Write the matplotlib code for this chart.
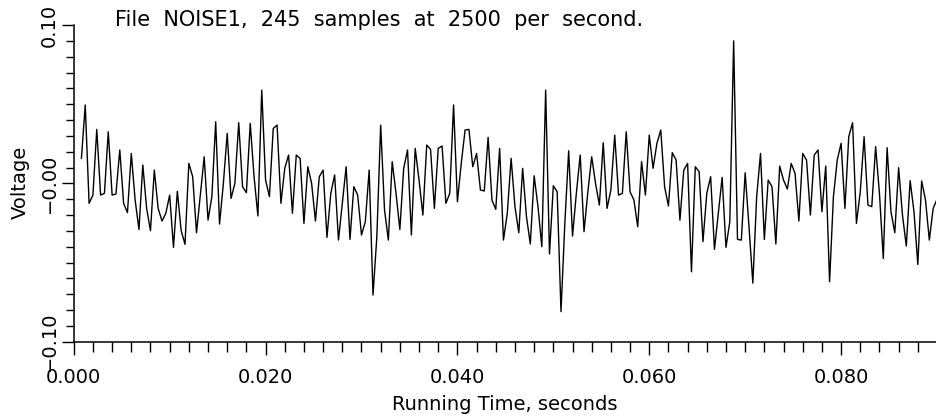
import numpy as np
import matplotlib
matplotlib.use('Agg')
import matplotlib.pyplot as plt
from matplotlib.ticker import FixedLocator, MultipleLocator

# sampling info (from the title line)
rate = 2500.0
first_sample = 2   # first sample that shows on the time axis

# voltage of each sample (volts)
voltage = [
    0.0158, 0.0495, -0.0126, -0.0074, 0.0341, -0.0074, -0.0063, 0.0326, -0.0074, -0.0067,
    0.0211, -0.0126, -0.0185, 0.0189, -0.0105, -0.0291, 0.0116, -0.0158, -0.0299, 0.0084,
    -0.0158, -0.0238, -0.0189, -0.0074, -0.0404, -0.0050, -0.0299, -0.0385, 0.0126, 0.0042,
    -0.0312, -0.0074, 0.0168, -0.0232, -0.0084, 0.0389, -0.0257, 0.0000, 0.0316, -0.0095,
    0.0000, 0.0383, -0.0021, -0.0059, 0.0379, 0.0042, -0.0206, 0.0589, 0.0021, -0.0084,
    0.0347, 0.0368, -0.0126, 0.0095, 0.0179, -0.0189, 0.0179, 0.0158, -0.0253, 0.0105,
    0.0000, -0.0238, 0.0042, 0.0084, -0.0341, -0.0063, 0.0053, -0.0358, -0.0126, 0.0105,
    -0.0354, -0.0021, -0.0074, -0.0326, -0.0242, 0.0084, -0.0705, -0.0337, 0.0368, -0.0168,
    -0.0358, 0.0137, -0.0063, -0.0291, 0.0095, 0.0211, -0.0326, 0.0221, 0.0021, -0.0200,
    0.0242, 0.0215, -0.0158, 0.0221, 0.0236, -0.0126, -0.0063, 0.0495, -0.0116, 0.0126,
    0.0337, 0.0341, 0.0105, 0.0189, -0.0042, -0.0048, 0.0291, -0.0105, -0.0164, 0.0221,
    -0.0358, -0.0189, 0.0158, -0.0147, -0.0312, 0.0095, -0.0211, -0.0383, 0.0048, -0.0147,
    -0.0400, 0.0589, -0.0446, -0.0015, -0.0053, -0.0810, -0.0253, 0.0206, -0.0333, -0.0063,
    0.0179, -0.0305, -0.0053, 0.0168, 0.0000, -0.0137, 0.0257, -0.0158, -0.0042, 0.0305,
    -0.0074, -0.0063, 0.0326, -0.0053, -0.0105, -0.0274, 0.0137, -0.0074, 0.0305, 0.0095,
    0.0253, 0.0337, -0.0021, -0.0143, 0.0194, 0.0147, -0.0232, 0.0084, 0.0126, -0.0558,
    0.0105, 0.0074, -0.0368, -0.0063, 0.0042, -0.0417, -0.0189, 0.0038, -0.0404, -0.0242,
    0.0900, -0.0354, -0.0358, 0.0067, -0.0274, -0.0630, -0.0084, 0.0189, -0.0354, 0.0021,
    -0.0021, -0.0383, 0.0109, 0.0021, -0.0036, 0.0126, 0.0063, -0.0238, 0.0189, 0.0147,
    -0.0200, 0.0179, 0.0211, -0.0179, 0.0109, -0.0621, -0.0084, 0.0147, 0.0253, -0.0158,
    0.0295, 0.0383, -0.0253, -0.0053, 0.0295, -0.0137, -0.0147, 0.0232, -0.0063, -0.0474,
    0.0225, -0.0179, -0.0312, 0.0099, -0.0200, -0.0396, 0.0017, -0.0179, -0.0512, 0.0015,
    -0.0105, -0.0358, -0.0158, -0.0101,
]

xticks = [0.0, 0.02, 0.04, 0.06, 0.08]
xtick_labels = ['0.000', '0.020', '0.040', '0.060', '0.080']
yticks = [-0.1, 0.0, 0.1]
ytick_labels = ['\u22120.10', '\u22120.00', '0.10']

title = 'File  NOISE1,  245  samples  at  2500  per  second.'

t = (np.arange(len(voltage)) + first_sample) / rate

fig = plt.figure(figsize=(9.37, 4.2), dpi=100)
ax = fig.add_axes([0.0787, 0.1864, 0.9213, 0.754])

ax.plot(t, voltage, color='black', lw=1.0)

ax.set_xlim(0, 0.09)
ax.set_ylim(-0.1, 0.1)

ax.spines['top'].set_visible(False)
ax.spines['right'].set_visible(False)
ax.spines['left'].set_linewidth(1.1)
ax.spines['bottom'].set_linewidth(1.1)

ax.xaxis.set_major_locator(FixedLocator(xticks))
ax.xaxis.set_minor_locator(MultipleLocator(0.002))
ax.set_xticklabels(xtick_labels, fontsize=14)
ax.yaxis.set_major_locator(FixedLocator(yticks))
ax.yaxis.set_minor_locator(MultipleLocator(0.01))
ax.set_yticklabels(ytick_labels, fontsize=14, rotation=90, va='center')

ax.tick_params(axis='x', which='major', direction='out', length=9, width=1, pad=10)
ax.tick_params(axis='x', which='minor', direction='out', length=7, width=1)
ax.tick_params(axis='y', which='major', direction='out', length=9, width=1, pad=2)
ax.tick_params(axis='y', which='minor', direction='out', length=6, width=1)

fig.text(115 / 937, 1 - 20 / 420, title, fontsize=15, ha='left', va='center')
fig.text(505 / 937, 1 - 405 / 420, 'Running Time, seconds', fontsize=14,
         ha='center', va='center')
fig.text(20 / 937, 1 - 182 / 420, 'Voltage', fontsize=14, rotation=90,
         ha='center', va='center')

fig.savefig('out.png', dpi=100)
